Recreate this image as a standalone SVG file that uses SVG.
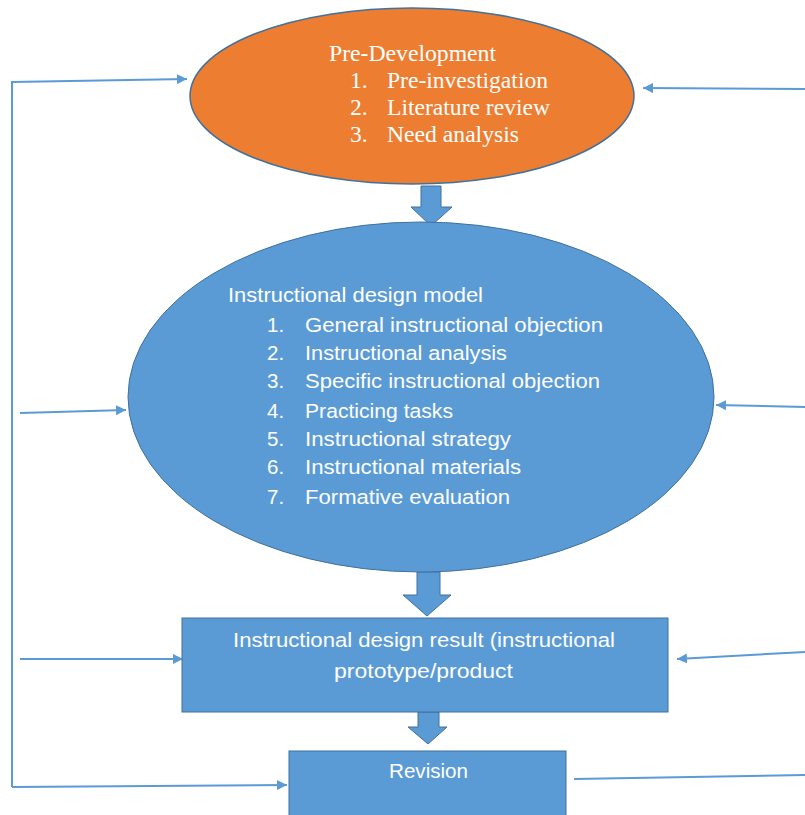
<svg xmlns="http://www.w3.org/2000/svg" width="805" height="815" viewBox="0 0 805 815">
<defs>
<marker id="ah" markerWidth="10" markerHeight="10" viewBox="0 0 10 10" refX="10" refY="5" orient="auto" markerUnits="userSpaceOnUse">
<path d="M0,0 L10,5 L0,10 z" fill="#5B9BD5"/>
</marker>
<style>
.conn{fill:none;stroke:#5B9BD5;stroke-width:2}
.blk{fill:#5B9BD5;stroke:#41719C;stroke-width:1}
.serif{font-family:"Liberation Serif","Times New Roman",serif;font-size:23.5px;fill:#fff}
.sans{font-family:"Liberation Sans",Arial,sans-serif;font-size:20.5px;fill:#fff}
</style>
</defs>
<rect width="805" height="815" fill="#fff"/>
<g id="connectors">
<polyline class="conn" points="12,787 12,82 187,79" marker-end="url(#ah)"/>
<line class="conn" x1="12" y1="787" x2="287" y2="785" marker-end="url(#ah)"/>
<line class="conn" x1="20" y1="413" x2="126" y2="410" marker-end="url(#ah)"/>
<line class="conn" x1="20" y1="659" x2="183" y2="659" marker-end="url(#ah)"/>
<line class="conn" x1="805" y1="89" x2="643" y2="88" marker-end="url(#ah)"/>
<line class="conn" x1="805" y1="407" x2="716" y2="405" marker-end="url(#ah)"/>
<line class="conn" x1="805" y1="652" x2="677" y2="659" marker-end="url(#ah)"/>
<line class="conn" x1="574" y1="779" x2="805" y2="775"/>
<path class="blk" d="M421,186 H441 V207 H452 L431,226 L411,207 H421 Z"/>
<path class="blk" d="M417,572 H440 V595 H451 L427,616 L403,595 H417 Z"/>
<path class="blk" d="M418,712 H439 V727 H447 L428,744 L408,727 H418 Z"/>
</g>
<g id="pre-development">
<ellipse cx="412" cy="96" rx="222" ry="88" fill="#ED7D31" stroke="#41719C" stroke-width="1.5"/>
<text class="serif" x="329" y="61" textLength="167" lengthAdjust="spacingAndGlyphs">Pre-Development</text>
<text class="serif" x="350" y="88">1.</text>
<text class="serif" x="387" y="88" textLength="161" lengthAdjust="spacingAndGlyphs">Pre-investigation</text>
<text class="serif" x="350" y="115">2.</text>
<text class="serif" x="387" y="115" textLength="163" lengthAdjust="spacingAndGlyphs">Literature review</text>
<text class="serif" x="350" y="142">3.</text>
<text class="serif" x="387" y="142" textLength="132" lengthAdjust="spacingAndGlyphs">Need analysis</text>
</g>
<g id="design-model">
<ellipse cx="421" cy="397" rx="293" ry="175" fill="#5B9BD5" stroke="#41719C" stroke-width="1"/>
<text class="sans" x="228" y="302" textLength="255" lengthAdjust="spacingAndGlyphs">Instructional design model</text>
<text class="sans" x="267" y="332">1.</text>
<text class="sans" x="305" y="332" textLength="298" lengthAdjust="spacingAndGlyphs">General instructional objection</text>
<text class="sans" x="267" y="360">2.</text>
<text class="sans" x="305" y="360" textLength="202" lengthAdjust="spacingAndGlyphs">Instructional analysis</text>
<text class="sans" x="267" y="388">3.</text>
<text class="sans" x="305" y="388" textLength="295" lengthAdjust="spacingAndGlyphs">Specific instructional objection</text>
<text class="sans" x="267" y="418">4.</text>
<text class="sans" x="305" y="418" textLength="148" lengthAdjust="spacingAndGlyphs">Practicing tasks</text>
<text class="sans" x="267" y="446">5.</text>
<text class="sans" x="305" y="446" textLength="206" lengthAdjust="spacingAndGlyphs">Instructional strategy</text>
<text class="sans" x="267" y="474">6.</text>
<text class="sans" x="305" y="474" textLength="216" lengthAdjust="spacingAndGlyphs">Instructional materials</text>
<text class="sans" x="267" y="504">7.</text>
<text class="sans" x="305" y="504" textLength="205" lengthAdjust="spacingAndGlyphs">Formative evaluation</text>
</g>
<g id="design-result">
<rect x="182" y="618" width="486" height="94" fill="#5B9BD5" stroke="#41719C" stroke-width="1"/>
<text class="sans" x="233" y="647" textLength="382" lengthAdjust="spacingAndGlyphs">Instructional design result (instructional</text>
<text class="sans" x="334" y="678" textLength="179" lengthAdjust="spacingAndGlyphs">prototype/product</text>
</g>
<g id="revision">
<rect x="289" y="751" width="277" height="70" fill="#5B9BD5" stroke="#41719C" stroke-width="1"/>
<text class="sans" x="389" y="778" textLength="79" lengthAdjust="spacingAndGlyphs">Revision</text>
</g>
</svg>
